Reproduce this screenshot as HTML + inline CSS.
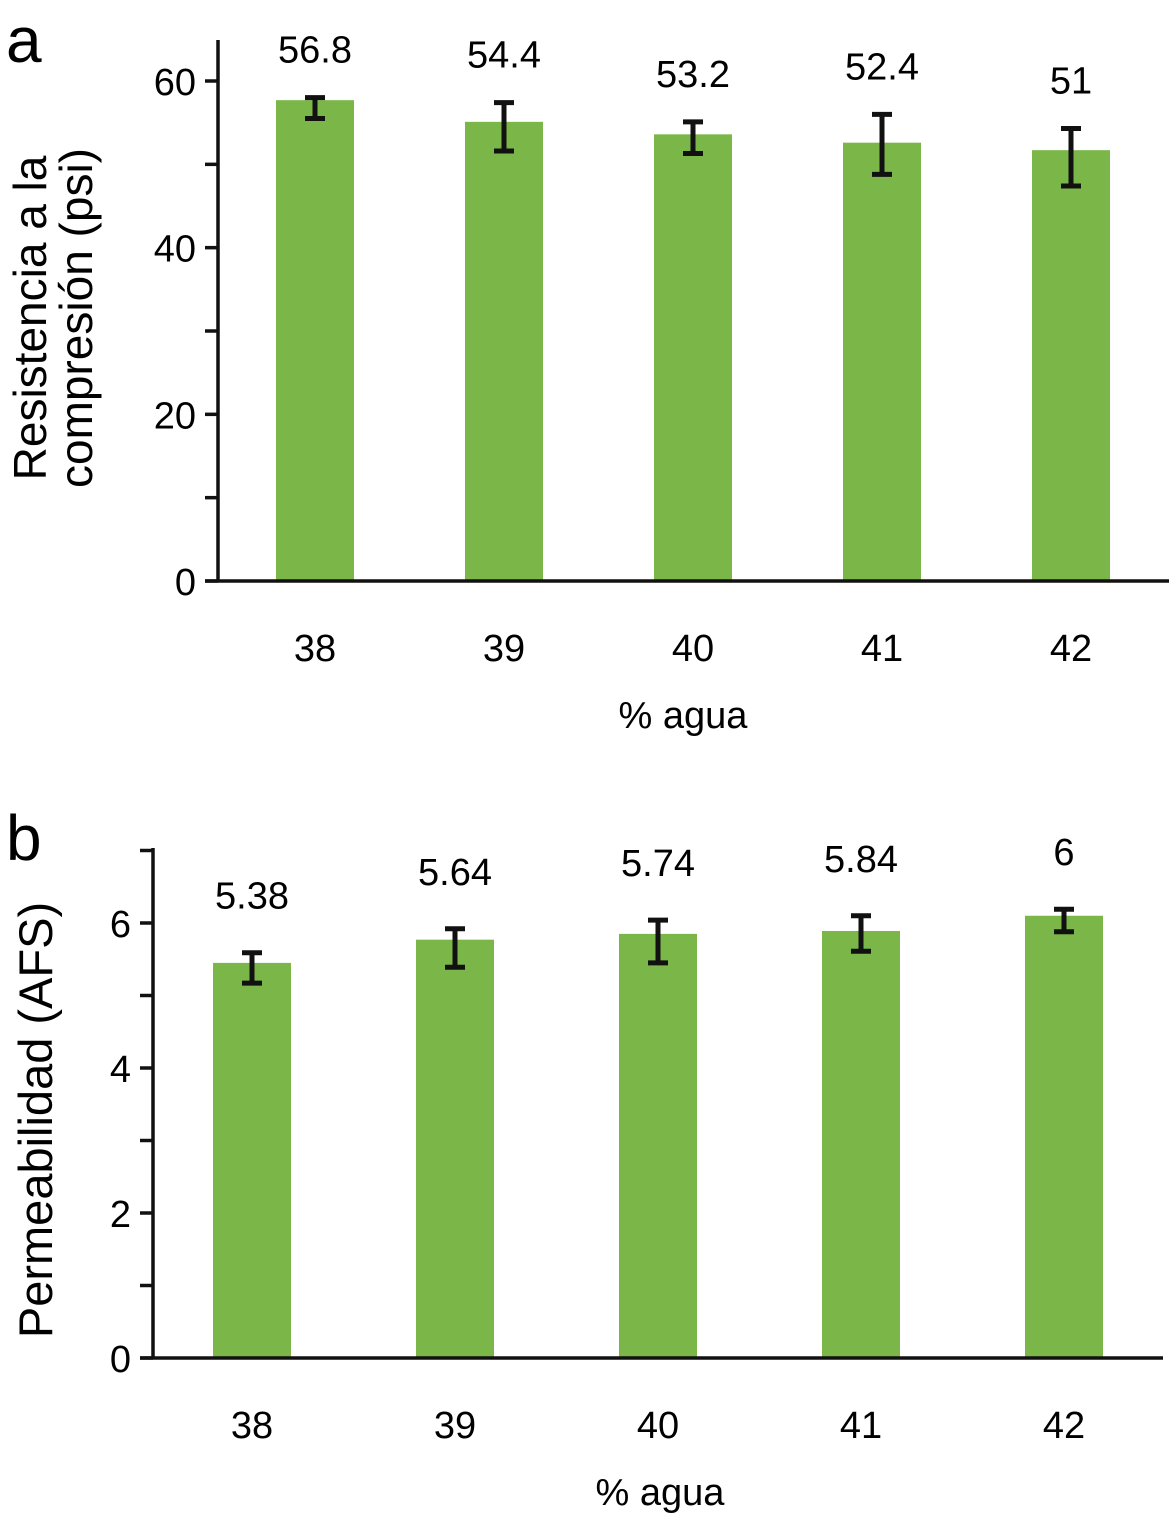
<!DOCTYPE html>
<html><head><meta charset="utf-8"><style>
html,body{margin:0;padding:0;background:#fff}
svg{display:block;font-family:"Liberation Sans",Arial,sans-serif}
</style></head><body>
<svg id="s" width="1169" height="1525" viewBox="0 0 1169 1525">
<text x="6" y="62" font-size="64">a</text>
<text x="6" y="860" font-size="64">b</text>
<g transform="translate(46,318) rotate(-90)">
<text x="0" y="0" font-size="46" text-anchor="middle">Resistencia a la</text>
<text x="0" y="46" font-size="46" text-anchor="middle">compresión (psi)</text></g>
<text transform="translate(52,1120) rotate(-90)" font-size="47" text-anchor="middle">Permeabilidad (AFS)</text>
<text x="683" y="728" font-size="38" text-anchor="middle">% agua</text>
<text x="660" y="1505" font-size="38" text-anchor="middle">% agua</text>
</svg>
<script>
const catsA=["38","39","40","41","42"];
const valsA=[57.7,55.1,53.6,52.6,51.7];
const errHiA=[58.0,57.4,55.1,56.0,54.3];
const errLoA=[55.5,51.6,51.3,48.8,47.4];
const labelsA=["56.8","54.4","53.2","52.4","51"];
const ticksA=[0,20,40,60];
const catsB=["38","39","40","41","42"];
const valsB=[5.45,5.77,5.85,5.89,6.10];
const errHiB=[5.59,5.92,6.04,6.10,6.19];
const errLoB=[5.17,5.39,5.45,5.61,5.88];
const labelsB=["5.38","5.64","5.74","5.84","6"];
const ticksB=[0,2,4,6];
const NS="http://www.w3.org/2000/svg",svg=document.getElementById("s");
function el(t,a,p){const e=document.createElementNS(NS,t);for(const k in a)e.setAttribute(k,a[k]);(p||svg).appendChild(e);return e;}
function chart(o){
 const y=v=>o.y0-(v/o.ymax)*(o.y0-o.yTop);
 const x=i=>o.x0c+i*o.step;
 const g=el("g",{});
 
 
 o.cats.forEach((c,i)=>{
  const r=el("rect",{x:x(i)-39,y:y(o.vals[i]),width:78,height:o.y0-y(o.vals[i]),fill:"#7AB648"},g);
  
  
  const eg=el("g",{stroke:"#111","stroke-width":5},g);
  
  
  el("line",{x1:x(i),x2:x(i),y1:y(o.hi[i]),y2:y(o.lo[i])},eg);
  el("line",{x1:x(i)-10,x2:x(i)+10,y1:y(o.hi[i]),y2:y(o.hi[i])},eg);
  el("line",{x1:x(i)-10,x2:x(i)+10,y1:y(o.lo[i]),y2:y(o.lo[i])},eg);
  const t=el("text",{x:x(i),y:y(o.hi[i])-o.lo_off,"font-size":38,"text-anchor":"middle"},g);t.textContent=o.labels[i];
  
  
  const xt=el("text",{x:x(i),y:o.y0+80,"font-size":38,"text-anchor":"middle"},g);xt.textContent=c;
  
  
 });
 const ax=el("g",{stroke:"#111","stroke-width":3.5},g);
 
 
 el("line",{x1:o.ax,x2:o.ax,y1:o.axTop,y2:o.y0},ax);
 el("line",{x1:o.ax-13,x2:o.xEnd,y1:o.y0,y2:o.y0},ax);
 for(let v=0;v<=o.ymaxTick;v+=o.minor){el("line",{x1:o.ax-13,x2:o.ax,y1:y(v),y2:y(v)},ax);}
 o.ticks.forEach(v=>{const t=el("text",{x:o.ax-22,y:y(v)+14,"font-size":38,"text-anchor":"end"},g);t.textContent=v;
  
  });
}
chart({name:"chart-a",cats:catsA,vals:valsA,hi:errHiA,lo:errLoA,labels:labelsA,ticks:ticksA,y0:581,yTop:81,ymax:60,x0c:315,step:189,ax:218,axTop:40,xEnd:1169,minor:10,ymaxTick:60,lo_off:35});
chart({name:"chart-b",cats:catsB,vals:valsB,hi:errHiB,lo:errLoB,labels:labelsB,ticks:ticksB,y0:1358,yTop:923,ymax:6,x0c:252,step:203,ax:153,axTop:848,xEnd:1163,minor:1,ymaxTick:7,lo_off:44});
</script>
</body></html>
